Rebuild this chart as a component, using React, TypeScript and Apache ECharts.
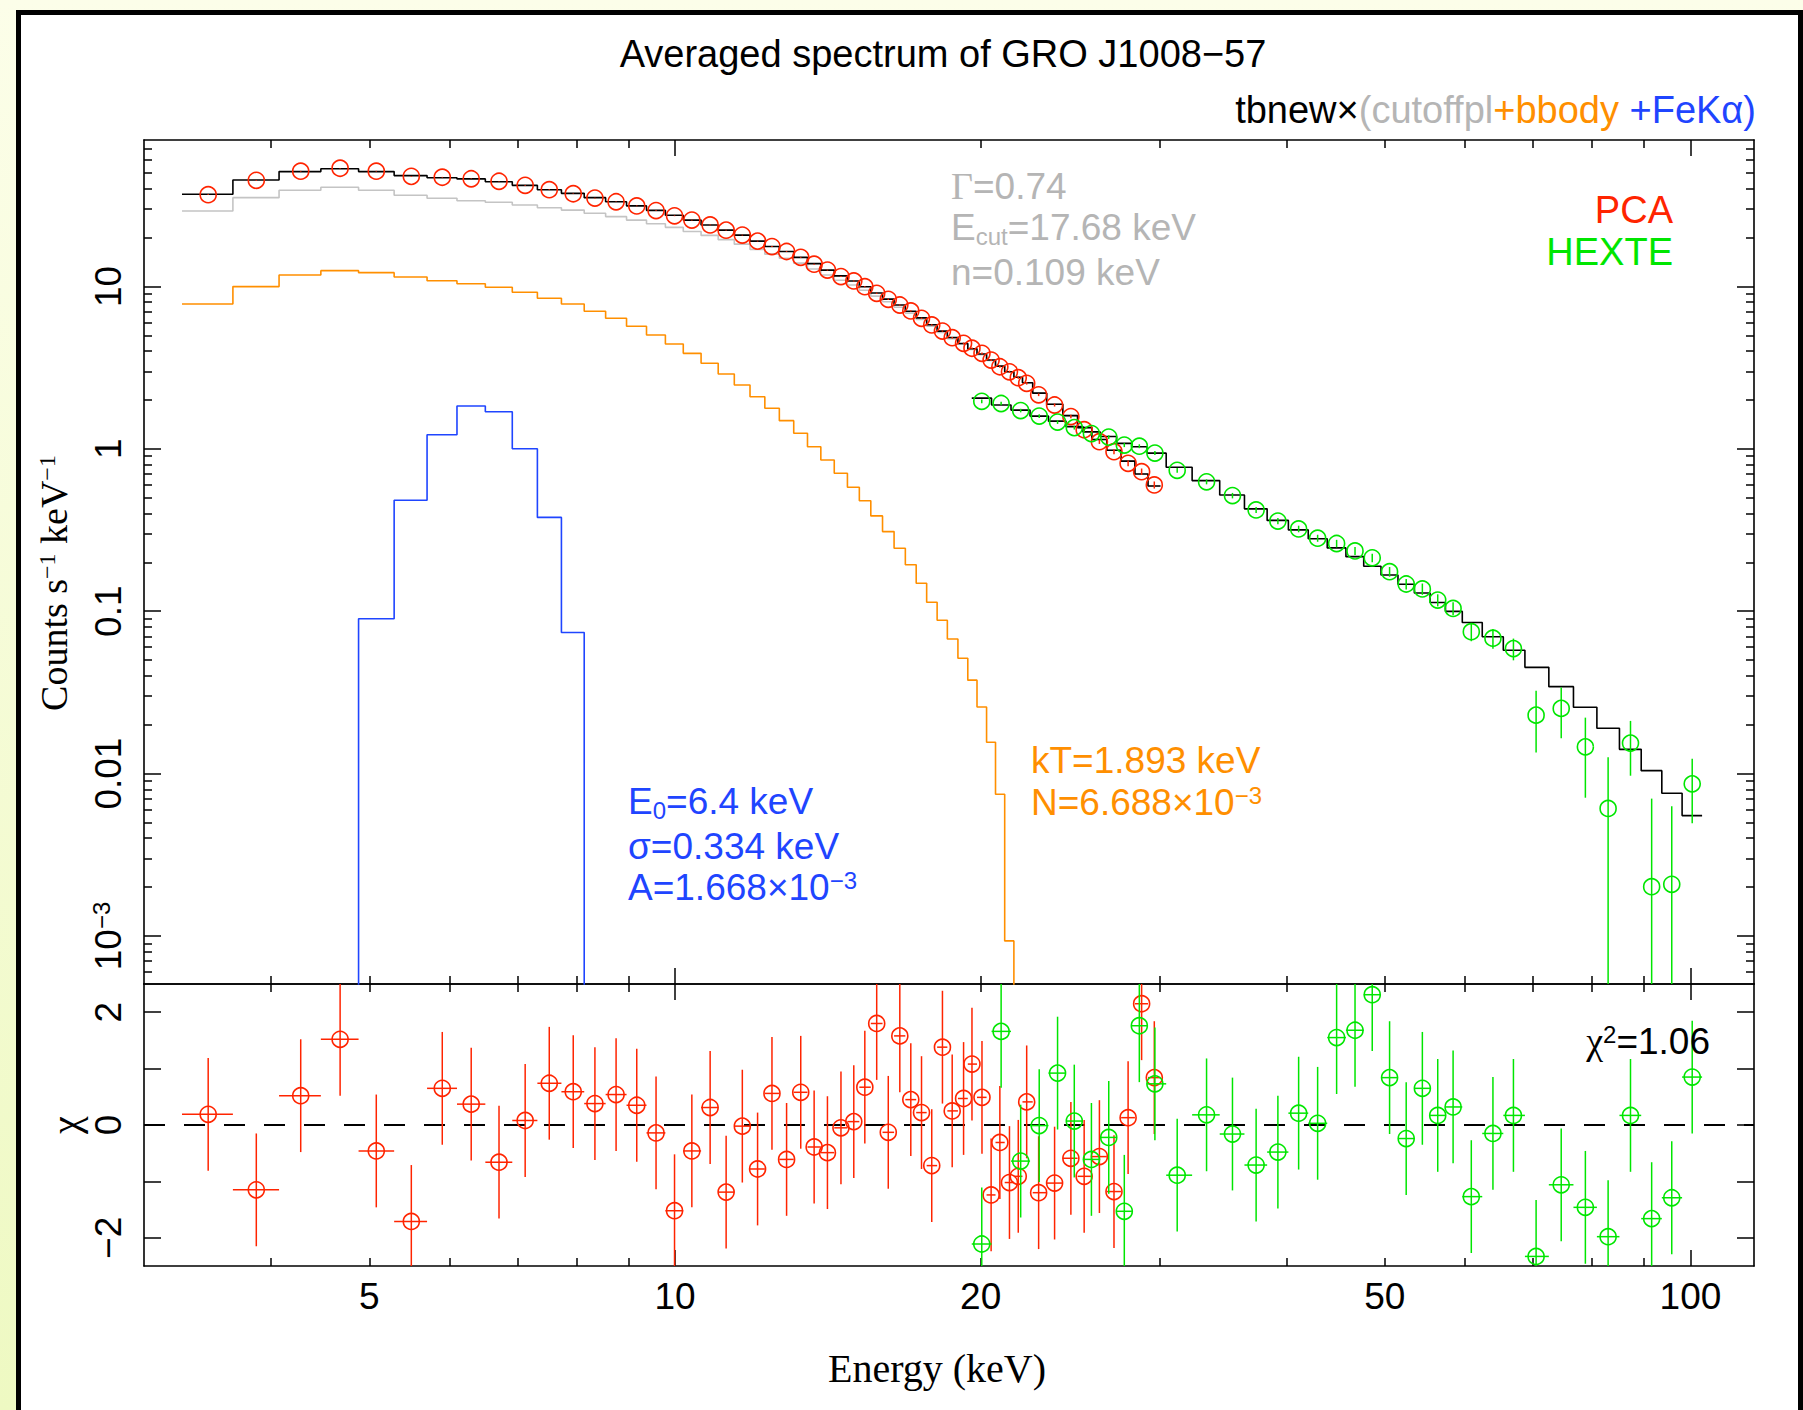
import React, { useEffect, useRef } from 'react';
import * as echarts from 'echarts';

// ---------------- data ----------------
// PCA spectrum (keV, counts s^-1 keV^-1)
const pcaEnergy = [3.47, 3.87, 4.28, 4.68, 5.08, 5.5, 5.9, 6.3, 6.71, 7.12, 7.52, 7.94, 8.34, 8.75, 9.17, 9.58, 9.99, 10.39, 10.83, 11.23, 11.65, 12.06, 12.46, 12.88, 13.3, 13.71, 14.13, 14.57, 15.0, 15.38, 15.8, 16.22, 16.65, 17.07, 17.49, 17.9, 18.34, 18.75, 19.24, 19.61, 20.06, 20.48, 20.89, 21.35, 21.78, 22.2, 22.81, 23.65, 24.54, 25.29, 26.18, 27.06, 27.94, 28.81, 29.65];
const pcaCounts = [36.7, 45.0, 51.2, 53.4, 51.2, 47.6, 47.0, 46.0, 44.4, 41.9, 39.4, 37.2, 35.0, 33.2, 31.3, 29.3, 27.2, 25.6, 23.9, 22.2, 20.7, 19.0, 17.6, 16.4, 15.1, 13.7, 12.6, 11.5, 10.8, 9.96, 9.07, 8.33, 7.68, 7.06, 6.36, 5.79, 5.31, 4.83, 4.46, 4.16, 3.87, 3.52, 3.2, 2.98, 2.74, 2.53, 2.15, 1.86, 1.58, 1.31, 1.106, 0.96, 0.814, 0.723, 0.599];
const pcaErr = [0.2, 0.23, 0.25, 0.26, 0.25, 0.24, 0.23, 0.23, 0.22, 0.21, 0.2, 0.19, 0.18, 0.17, 0.16, 0.15, 0.14, 0.13, 0.13, 0.12, 0.11, 0.11, 0.1, 0.1, 0.09, 0.09, 0.08, 0.08, 0.08, 0.07, 0.07, 0.07, 0.06, 0.06, 0.06, 0.05, 0.05, 0.05, 0.05, 0.05, 0.05, 0.045, 0.045, 0.045, 0.045, 0.045, 0.04, 0.04, 0.04, 0.035, 0.035, 0.035, 0.033, 0.033, 0.03];
const pcaModel = [36.9, 45.2, 50.9, 53.0, 50.9, 48.1, 46.7, 45.9, 44.1, 41.9, 39.4, 37.4, 35.2, 33.2, 31.3, 29.4, 27.4, 25.6, 23.9, 22.2, 20.7, 19.0, 17.6, 16.4, 15.1, 13.8, 12.6, 11.6, 10.8, 9.95, 9.1, 8.35, 7.68, 7.03, 6.4, 5.8, 5.3, 4.84, 4.45, 4.13, 3.83, 3.52, 3.23, 2.98, 2.76, 2.55, 2.2, 1.88, 1.6, 1.35, 1.14, 0.98, 0.84, 0.7, 0.59];
const pcaCutoffpl = [29.1, 35.2, 39.1, 40.8, 39.1, 36.4, 34.9, 33.7, 33.0, 31.7, 30.5, 29.5, 28.2, 26.9, 25.6, 24.3, 23.1, 21.8, 20.6, 19.4, 18.2, 16.9, 15.8, 14.9, 13.9, 12.8, 11.75, 10.9, 10.2, 9.47, 8.71, 8.04, 7.44, 6.84, 6.25, 5.69, 5.21, 4.77, 4.4, 4.09, 3.8, 3.5, 3.22, 2.98, 2.76, 2.55, 2.2, 1.88, 1.6, 1.35, 1.14, 0.98, 0.84, 0.7, 0.59];
const pcaBbody = [7.79, 9.97, 11.76, 12.5, 12.15, 11.43, 10.84, 10.39, 9.87, 9.2, 8.45, 7.79, 7.03, 6.36, 5.68, 5.02, 4.42, 3.87, 3.36, 2.89, 2.47, 2.09, 1.776, 1.49, 1.246, 1.03, 0.853, 0.707, 0.579, 0.479, 0.386, 0.309, 0.244, 0.193, 0.1485, 0.1134, 0.0879, 0.0674, 0.0513, 0.0376, 0.0257, 0.01559, 0.00746, 0.000932, 0.00001];
const feKaFirstBin = 3;
const pcaFeKa = [0.00001, 0.0899, 0.482, 1.22, 1.835, 1.69, 1.0, 0.378, 0.0739, 0.00001];
const pcaChi = [0.19, -1.15, 0.52, 1.52, -0.46, -1.71, 0.65, 0.37, -0.66, 0.08, 0.74, 0.59, 0.38, 0.54, 0.35, -0.14, -1.52, -0.46, 0.31, -1.19, -0.02, -0.78, 0.56, -0.61, 0.58, -0.39, -0.49, -0.05, 0.06, 0.67, 1.8, -0.13, 1.58, 0.45, 0.22, -0.72, 1.38, 0.25, 0.47, 1.08, 0.49, -1.24, -0.31, -1.02, -0.91, 0.41, -1.2, -1.03, -0.59, -0.91, -0.56, -1.18, 0.13, 2.15, 0.84];

// HEXTE spectrum
const hexteEnergy = [20.05, 20.95, 21.9, 22.84, 23.81, 24.73, 25.71, 26.74, 27.7, 28.66, 29.69, 31.23, 33.38, 35.4, 37.35, 39.24, 41.13, 42.94, 44.83, 46.74, 48.6, 50.55, 52.49, 54.45, 56.38, 58.38, 60.84, 63.9, 66.94, 70.47, 74.6, 78.8, 82.97, 87.29, 91.58, 95.85, 100.4];
const hexteCounts = [1.96, 1.9, 1.72, 1.59, 1.46, 1.35, 1.24, 1.18, 1.054, 1.037, 0.941, 0.737, 0.626, 0.515, 0.42, 0.359, 0.321, 0.2815, 0.261, 0.235, 0.213, 0.175, 0.147, 0.137, 0.117, 0.104, 0.0748, 0.0682, 0.0588, 0.0229, 0.0252, 0.0146, 0.0061, 0.0154, 0.00201, 0.00208, 0.00864];
const hexteErr = [0.05, 0.048, 0.044, 0.041, 0.038, 0.036, 0.034, 0.032, 0.03, 0.029, 0.027, 0.025, 0.022, 0.02, 0.018, 0.016, 0.015, 0.014, 0.014, 0.013, 0.013, 0.012, 0.011, 0.011, 0.01, 0.0095, 0.0095, 0.0095, 0.009, 0.0094, 0.0087, 0.0075, 0.0065, 0.0057, 0.005, 0.0042, 0.0037];
const hexteModel = [2.05, 1.86, 1.73, 1.59, 1.48, 1.37, 1.27, 1.19, 1.08, 1.03, 0.94, 0.77, 0.637, 0.519, 0.4266, 0.3623, 0.3166, 0.2795, 0.2453, 0.2166, 0.189, 0.1669, 0.1464, 0.1293, 0.113, 0.0997, 0.0852, 0.0696, 0.0575, 0.0451, 0.0343, 0.0256, 0.019, 0.0141, 0.01042, 0.00756, 0.00551];
const hexteChi = [-2.11, 1.66, -0.64, -0.01, 0.92, 0.07, -0.61, -0.22, -1.53, 1.76, 0.73, -0.89, 0.18, -0.16, -0.71, -0.48, 0.21, 0.03, 1.55, 1.68, 2.31, 0.84, -0.24, 0.65, 0.17, 0.32, -1.27, -0.15, 0.17, -2.33, -1.06, -1.46, -1.98, 0.17, -1.66, -1.29, 0.85];

// axes ticks and labels
const energyTicksMajor = [10, 100];
const energyTicksMinor = [4, 5, 6, 7, 8, 9, 20, 30, 40, 50, 60, 70, 80, 90];
const energyLabels = [5, 10, 20, 50, 100];
const countTicksMajor = [0.001, 0.01, 0.1, 1, 10];
const countLabels = ['10{sup|−3}', '0.01', '0.1', '1', '10'];
const countTicksMinor = [0.0006, 0.0007, 0.0008, 0.0009, 0.002, 0.003, 0.004, 0.005, 0.006, 0.007, 0.008, 0.009, 0.02, 0.03, 0.04, 0.05, 0.06, 0.07, 0.08, 0.09, 0.2, 0.3, 0.4, 0.5, 0.6, 0.7, 0.8, 0.9, 2, 3, 4, 5, 6, 7, 8, 9, 20, 30, 40, 50, 60, 70];
const chiTicks = [-2, -1, 0, 1, 2];
const chiLabels = [-2, 0, 2];

const X_MIN = 3;
const X_MAX = 115.5;
const Y_MIN = 5.06e-4;
const Y_MAX = 79.7;
const CHI_MIN = -2.5;
const CHI_MAX = 2.5;

// ---------------- styling ----------------
const SANS = '"Liberation Sans", Arial, Helvetica, sans-serif';
const SERIF = '"Liberation Serif", "Times New Roman", Times, serif';
const RED = '#ff2400';
const GREEN = '#00e600';
const ORANGE = '#ff8f00';
const BLUE = '#1f45ff';
const GRAY_TXT = '#b5b5b5';
const GRAY_LINE = '#c4c4c4';
const R = 8;

function binEdges(c: number[]): [number, number][] {
  return c.map((e, i) => {
    const lo = i === 0 ? e - (c[1] - c[0]) / 2 : (c[i - 1] + e) / 2;
    const hi = i === c.length - 1 ? e + (e - c[i - 1]) / 2 : (e + c[i + 1]) / 2;
    return [lo, hi];
  });
}

function stepLine(edges: [number, number][], vals: number[], off = 0) {
  const pts: number[][] = [];
  vals.forEach((v, k) => {
    pts.push([edges[k + off][0], v], [edges[k + off][1], v]);
  });
  return pts;
}

function stepSeries(data: number[][], color: string, width = 1.6) {
  return {
    type: 'line',
    xAxisIndex: 0,
    yAxisIndex: 0,
    data,
    symbol: 'none',
    showSymbol: false,
    silent: true,
    clip: true,
    z: 2,
    lineStyle: { color, width },
  };
}

function pointSeries(energy: number[], val: number[], lo: number[], hi: number[], edges: [number, number][], color: string, axis: number, xBars: boolean) {
  return {
    type: 'custom',
    xAxisIndex: axis,
    yAxisIndex: axis,
    z: 5,
    silent: true,
    encode: { x: 0, y: 1 },
    data: energy.map((e, i) => [e, val[i], lo[i], hi[i], edges[i][0], edges[i][1]]),
    renderItem: (params: any, api: any) => {
      const cs = params.coordSys;
      const top = cs.y;
      const bottom = cs.y + cs.height;
      const cl = (v: number) => Math.max(top, Math.min(bottom, v));
      const p = api.coord([api.value(0), api.value(1)]);
      const a = api.coord([api.value(0), api.value(2)]);
      const b = api.coord([api.value(0), api.value(3)]);
      const children: any[] = [
        { type: 'line', shape: { x1: p[0], y1: cl(a[1]), x2: p[0], y2: cl(b[1]) }, style: { stroke: color, lineWidth: 1.5 } },
        { type: 'circle', shape: { cx: p[0], cy: p[1], r: R }, style: { fill: 'none', stroke: color, lineWidth: 1.6 } },
      ];
      if (xBars) {
        const l = api.coord([api.value(4), api.value(1)]);
        const r = api.coord([api.value(5), api.value(1)]);
        children.push({ type: 'line', shape: { x1: l[0], y1: p[1], x2: r[0], y2: p[1] }, style: { stroke: color, lineWidth: 1.5 } });
      }
      return { type: 'group', children };
    },
  };
}

const AXIS_LINE = { show: true, onZero: false, lineStyle: { color: '#000', width: 1.6 } };
const NO_LINE = { show: false, onZero: false };
const TICK_STYLE = { color: '#000', width: 1.5 };

function logX(gridIndex: number, position: string, ticks: number[], len: number, withLine: boolean, extra: any = {}) {
  return {
    type: 'log',
    logBase: 10,
    gridIndex,
    position,
    min: X_MIN,
    max: X_MAX,
    axisLine: withLine ? AXIS_LINE : NO_LINE,
    axisTick: { show: true, inside: true, length: len, customValues: ticks, lineStyle: TICK_STYLE },
    axisLabel: { show: false },
    splitLine: { show: false },
    minorTick: { show: false },
    minorSplitLine: { show: false },
    ...extra,
  };
}

function logY(gridIndex: number, position: string, ticks: number[], len: number, withLine: boolean, extra: any = {}) {
  return {
    type: 'log',
    logBase: 10,
    gridIndex,
    position,
    min: Y_MIN,
    max: Y_MAX,
    axisLine: withLine ? AXIS_LINE : NO_LINE,
    axisTick: { show: true, inside: true, length: len, customValues: ticks, lineStyle: TICK_STYLE },
    axisLabel: { show: false },
    splitLine: { show: false },
    minorTick: { show: false },
    minorSplitLine: { show: false },
    ...extra,
  };
}

function chiY(position: string, extra: any = {}) {
  return {
    type: 'value',
    gridIndex: 1,
    position,
    min: CHI_MIN,
    max: CHI_MAX,
    axisLine: AXIS_LINE,
    axisTick: { show: true, inside: true, length: 17, customValues: chiTicks, lineStyle: TICK_STYLE },
    axisLabel: { show: false },
    splitLine: { show: false },
    ...extra,
  };
}

function tok(fill: string, fontSize: number, family: string, more: any = {}) {
  return { fill, color: fill, fontSize, fontFamily: family, ...more };
}

function txt(x: number, y: number, text: string, o: any = {}) {
  return {
    type: 'text',
    x,
    y,
    z: 100,
    silent: true,
    rotation: o.rotation || 0,
    style: {
      text,
      fill: o.color || '#000',
      fontSize: o.fontSize || 38,
      fontFamily: o.fontFamily || SANS,
      align: o.align || 'left',
      textAlign: o.align || 'left',
      verticalAlign: 'middle',
      textVerticalAlign: 'middle',
      lineHeight: o.lineHeight,
      rich: o.rich,
    },
  };
}

let measureCtx: CanvasRenderingContext2D | null = null;
function textWidth(s: string, size: number, family: string) {
  if (!measureCtx) measureCtx = document.createElement('canvas').getContext('2d');
  if (!measureCtx) return s.length * size * 0.55;
  measureCtx.font = `${size}px ${family}`;
  return measureCtx.measureText(s).width;
}

// base text + subscript + rest, laid out as separate text pieces
function subscripted(x: number, y: number, base: string, sub: string, rest: string, color: string) {
  const w1 = textWidth(base, 37, SANS);
  const w2 = textWidth(sub, 24, SANS);
  return [
    txt(x, y, base, { color, fontSize: 37 }),
    txt(x + w1, y + 9, sub, { color, fontSize: 24 }),
    txt(x + w1 + w2, y, rest, { color, fontSize: 37 }),
  ];
}

function buildOption(): any {
  const pcaEdges = binEdges(pcaEnergy);
  const hexteEdges = binEdges(hexteEnergy);
  const supRich = (color: string, family = SANS, size = 37) => ({
    t: tok(color, size, family, { lineHeight: 38 }),
    sup: tok(color, 24, family, { lineHeight: 24, verticalAlign: 'top' }),
  });

  const graphics = [
    txt(943, 54, 'Averaged spectrum of GRO J1008−57', { fontSize: 38, align: 'center' }),
    txt(1756, 110, '{k|tbnew×}{g|(cutoffpl}{o|+bbody}{b| +FeKα)}', {
      align: 'right',
      rich: { k: tok('#000', 38, SANS), g: tok(GRAY_TXT, 38, SANS), o: tok(ORANGE, 38, SANS), b: tok(BLUE, 38, SANS) },
    }),
    txt(951, 186, '{s|Γ}{t|=0.74}', { color: GRAY_TXT, rich: { s: tok(GRAY_TXT, 38, SERIF), t: tok(GRAY_TXT, 37, SANS) } }),
    ...subscripted(951, 227, 'E', 'cut', '=17.68 keV', GRAY_TXT),
    txt(951, 272, 'n=0.109 keV', { color: GRAY_TXT, fontSize: 37 }),
    txt(1673, 210, 'PCA', { color: RED, align: 'right' }),
    txt(1673, 252, 'HEXTE', { color: GREEN, align: 'right' }),
    ...subscripted(628, 801, 'E', '0', '=6.4 keV', BLUE),
    txt(628, 846, 'σ=0.334 keV', { color: BLUE, fontSize: 37 }),
    txt(628, 887, '{t|A=1.668×10}{sup|−3}', { color: BLUE, rich: supRich(BLUE) }),
    txt(1031, 760, 'kT=1.893 keV', { color: ORANGE, fontSize: 37 }),
    txt(1031, 802, '{t|N=6.688×10}{sup|−3}', { color: ORANGE, rich: supRich(ORANGE) }),
    txt(1710, 1041, '{c|χ}{sup|2}{t|=1.06}', {
      align: 'right',
      rich: { ...supRich('#000'), c: tok('#000', 38, SERIF, { lineHeight: 38 }) },
    }),
    txt(54, 583, '{t|Counts s}{sup|−1}{t| keV}{sup|−1}', {
      align: 'center',
      rotation: Math.PI / 2,
      rich: supRich('#000', SERIF, 38),
    }),
    txt(65, 1125, 'χ', { align: 'center', rotation: Math.PI / 2, fontFamily: SERIF, fontSize: 40 }),
    txt(937, 1368, 'Energy (keV)', { align: 'center', fontFamily: SERIF, fontSize: 40 }),
  ];

  const yLabelIndex = (v: number) => {
    let best = 0;
    countTicksMajor.forEach((t, i) => {
      if (Math.abs(Math.log10(t) - Math.log10(v)) < Math.abs(Math.log10(countTicksMajor[best]) - Math.log10(v))) best = i;
    });
    return best;
  };

  return {
    animation: false,
    backgroundColor: 'transparent',
    textStyle: { fontFamily: SANS },
    grid: [
      { left: 144, top: 140, width: 1610, height: 844, show: false },
      { left: 144, top: 984, width: 1610, height: 282, show: false },
    ],
    xAxis: [
      logX(0, 'bottom', energyTicksMinor, 8, true),
      logX(0, 'bottom', energyTicksMajor, 16, false),
      logX(0, 'top', energyTicksMinor, 8, true),
      logX(0, 'top', energyTicksMajor, 16, false),
      logX(1, 'bottom', energyTicksMinor, 8, true, {
        axisLabel: {
          show: true,
          customValues: energyLabels,
          formatter: (v: number) => String(Math.round(v)),
          margin: 12,
          fontSize: 37,
          fontFamily: SANS,
          color: '#000',
        },
      }),
      logX(1, 'bottom', energyTicksMajor, 16, false),
      logX(1, 'top', energyTicksMinor, 8, true),
      logX(1, 'top', energyTicksMajor, 16, false),
    ],
    yAxis: [
      logY(0, 'left', countTicksMinor, 8, true),
      logY(0, 'left', countTicksMajor, 17, false, {
        axisLabel: {
          show: true,
          customValues: countTicksMajor,
          rotate: 90,
          margin: 17,
          fontSize: 37,
          lineHeight: 38,
          fontFamily: SANS,
          color: '#000',
          formatter: (v: number) => countLabels[yLabelIndex(v)],
          rich: { sup: { fontSize: 24, lineHeight: 24, verticalAlign: 'top', fontFamily: SANS, color: '#000' } },
        },
      }),
      logY(0, 'right', countTicksMinor, 8, true),
      logY(0, 'right', countTicksMajor, 17, false),
      chiY('left', {
        axisLabel: {
          show: true,
          customValues: chiLabels,
          rotate: 90,
          margin: 17,
          fontSize: 37,
          lineHeight: 38,
          fontFamily: SANS,
          color: '#000',
          formatter: (v: number) => (v < 0 ? '−' + Math.abs(v) : String(v)),
        },
      }),
      chiY('right'),
    ],
    series: [
      stepSeries(stepLine(pcaEdges, pcaCutoffpl), GRAY_LINE),
      stepSeries(stepLine(pcaEdges, pcaBbody), ORANGE),
      stepSeries(stepLine(pcaEdges, pcaFeKa, feKaFirstBin), BLUE),
      stepSeries(stepLine(pcaEdges, pcaModel), '#000'),
      stepSeries(stepLine(hexteEdges, hexteModel), '#000'),
      pointSeries(
        pcaEnergy,
        pcaCounts,
        pcaCounts.map((v, i) => Math.max(v - pcaErr[i], 1e-9)),
        pcaCounts.map((v, i) => v + pcaErr[i]),
        pcaEdges,
        RED,
        0,
        false
      ),
      pointSeries(
        hexteEnergy,
        hexteCounts,
        hexteCounts.map((v, i) => Math.max(v - hexteErr[i], 1e-9)),
        hexteCounts.map((v, i) => v + hexteErr[i]),
        hexteEdges,
        GREEN,
        0,
        false
      ),
      {
        type: 'line',
        xAxisIndex: 4,
        yAxisIndex: 4,
        data: [[X_MIN, 0], [X_MAX, 0]],
        symbol: 'none',
        silent: true,
        z: 2,
        lineStyle: { color: '#000', width: 2, type: [21, 19] },
      },
      pointSeries(pcaEnergy, pcaChi, pcaChi.map((v) => v - 1), pcaChi.map((v) => v + 1), pcaEdges, RED, 4, true),
      pointSeries(hexteEnergy, hexteChi, hexteChi.map((v) => v - 1), hexteChi.map((v) => v + 1), hexteEdges, GREEN, 4, true),
    ],
    graphic: { elements: graphics },
  };
}

export default function App() {
  const ref = useRef<HTMLDivElement>(null);
  useEffect(() => {
    if (!ref.current) return;
    const chart = echarts.init(ref.current, null, { renderer: 'svg' });
    chart.setOption(buildOption());
    return () => chart.dispose();
  }, []);
  return (
    <div
      style={{
        position: 'fixed',
        left: 0,
        top: 0,
        width: 1803,
        height: 1410,
        overflow: 'hidden',
        background: 'linear-gradient(#fcfee9, #eef9c2)',
      }}
    >
      <div
        style={{
          position: 'absolute',
          left: 16,
          top: 10,
          width: 1787,
          height: 1500,
          boxSizing: 'border-box',
          border: '5px solid #000',
          background: '#fff',
        }}
      />
      <div ref={ref} style={{ position: 'absolute', left: 0, top: 0, width: 1803, height: 1410 }} />
    </div>
  );
}
